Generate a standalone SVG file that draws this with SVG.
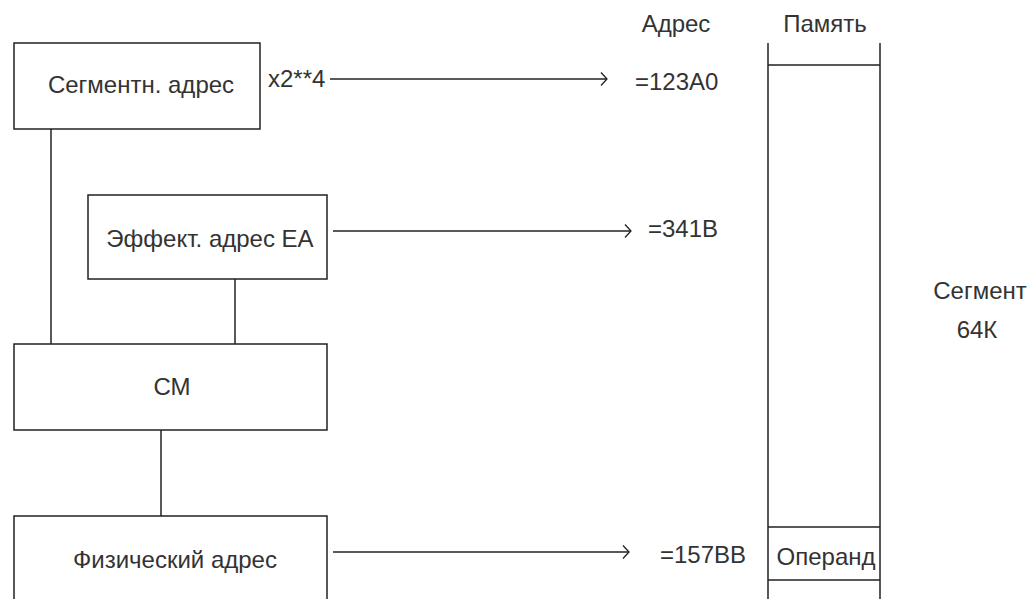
<svg xmlns="http://www.w3.org/2000/svg" width="1029" height="599" viewBox="0 0 1029 599">
<style>
.box{fill:#fff;stroke:#222;stroke-width:1.5}
.ln{stroke:#222;stroke-width:1.5;fill:none}
text{font-family:"Liberation Sans",Arial,sans-serif;font-size:24px;fill:#333}
.c{text-anchor:middle}
</style>
<defs>
<marker id="ah" markerWidth="10" markerHeight="16" refX="8" refY="8" orient="auto" markerUnits="userSpaceOnUse">
<path d="M2,1.5 L8,8 L2,14.5" fill="none" stroke="#222" stroke-width="1.3"/>
</marker>
</defs>
<rect width="1029" height="599" fill="#fff"/>
<g id="connectors">
<line class="ln" x1="51" y1="129" x2="51" y2="344"/>
<line class="ln" x1="235" y1="279" x2="235" y2="344"/>
<line class="ln" x1="161" y1="430" x2="161" y2="516"/>
<line class="ln" x1="330" y1="79" x2="607" y2="79" marker-end="url(#ah)"/>
<line class="ln" x1="333" y1="231" x2="631" y2="231" marker-end="url(#ah)"/>
<line class="ln" x1="333" y1="552" x2="629" y2="552" marker-end="url(#ah)"/>
</g>
<g id="seg">
<rect class="box" x="14" y="43" width="246" height="86"/>
<text class="c" x="141" y="93">Сегментн. адрес</text>
</g>
<text x="268" y="87">x2**4</text>
<g id="ea">
<rect class="box" x="88" y="195" width="239" height="84"/>
<text class="c" x="210" y="247">Эффект. адрес ЕА</text>
</g>
<g id="cm">
<rect class="box" x="14" y="344" width="313" height="86"/>
<text class="c" x="172" y="395">СМ</text>
</g>
<g id="phys">
<rect class="box" x="14" y="516" width="313" height="90"/>
<text class="c" x="175" y="568">Физический адрес</text>
</g>
<text class="c" x="676" y="32">Адрес</text>
<text class="c" x="825" y="32">Память</text>
<text x="635" y="90">=123A0</text>
<text x="648" y="237">=341B</text>
<text x="660" y="563">=157BB</text>
<g id="memory">
<path class="ln" d="M768,43 V599 M880,43 V599 M768,65 H880 M768,527 H880 M768,580 H880"/>
<text class="c" x="826" y="565">Операнд</text>
</g>
<g id="segment">
<text class="c" x="980" y="299">Сегмент</text>
<text class="c" x="977" y="338">64К</text>
</g>
</svg>
